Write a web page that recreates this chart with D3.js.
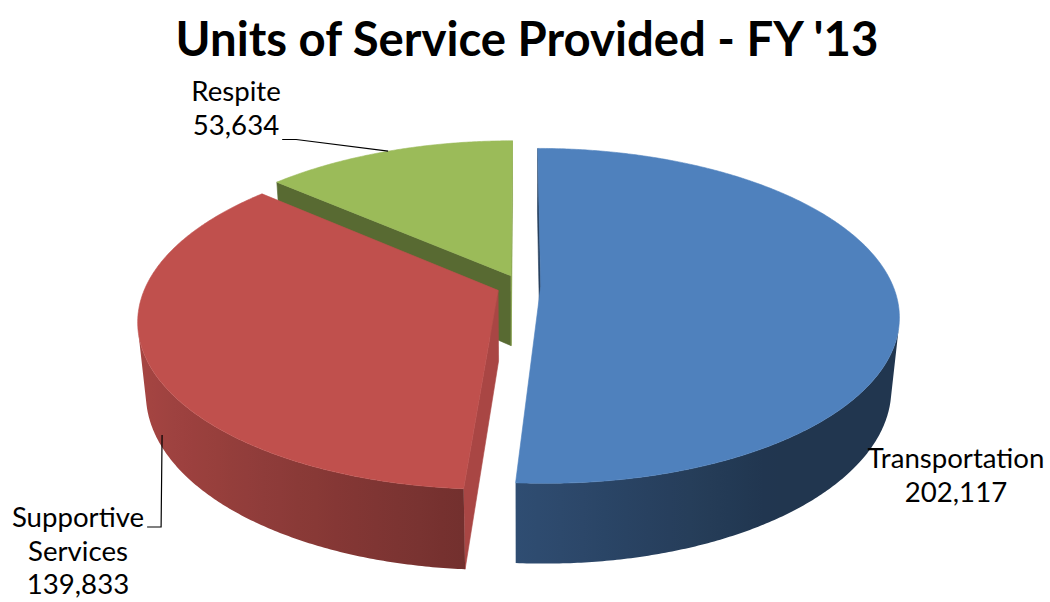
<!DOCTYPE html>
<html>
<head>
<meta charset="utf-8">
<script src="https://cdn.jsdelivr.net/npm/d3@7"></script>
<style>
body { margin: 0; background: #fff; }
svg { display: block; }
</style>
</head>
<body>
<div id="view"></div>
<script>
var width = 1050, height = 602;

// chart data
var title = "Units of Service Provided - FY '13";
var categories = ["Transportation", "Supportive Services", "Respite"];
var values = [202117, 139833, 53634];
var colors = ["#4f81bd", "#c0504d", "#9bbb59"];
var labelLines = [["Transportation"], ["Supportive", "Services"], ["Respite"]];

// 3d camera (pie radius = 1)
var tilt = 27.4 * Math.PI / 180, dist = 5.03, focal = 1772;
var cx = 521, cy = 286;
var depth = 0.23;
var explodeBy = [0.056, 0.07, 0.07];   // per slice pull-out
var camera = [0, dist * Math.sin(tilt), -dist * Math.cos(tilt)];

// where the labels sit
var labelPos = [
	{ x: 956, y: 468 },
	{ x: 78, y: 527, lead: "bottom" },
	{ x: 236, y: 101, lead: "top" }
];
var lineGap = 33.5;

function project(X, Y, Z) {
	var xc = X,
		yc = Y * Math.cos(tilt) + Z * Math.sin(tilt),
		zc = dist + Z * Math.cos(tilt) - Y * Math.sin(tilt);
	return [cx + focal * xc / zc, cy - focal * yc / zc];
}

function shade(hex, k) {
	var c = d3.rgb(hex);
	return d3.rgb(c.r * k, c.g * k, c.b * k).formatHex();
}

var svg = d3.select("#view").append("svg")
	.attr("width", width)
	.attr("height", height);
var defs = svg.append("defs");

var pie = d3.pie().sort(null).value(function(d) { return d; });
var arcs = pie(values);
var fmt = d3.format(",");
var line = d3.line();

var slices = arcs.map(function(a, i) {
	var mid = (a.startAngle + a.endAngle) / 2;
	return { i: i, a: a, mid: mid, ex: explodeBy[i] * Math.sin(mid), ez: explodeBy[i] * Math.cos(mid) };
});

// far slices first
var order = slices.slice().sort(function(p, q) { return q.ez - p.ez; });

var gPie = svg.append("g");
order.forEach(function(s) {
	var gs = gPie.append("g").attr("class", "slice");
	var col = colors[s.i];
	function P(t, y, r) {
		if (r == null) r = 1;
		return project(s.ex + r * Math.sin(t), y, s.ez + r * Math.cos(t));
	}
	function facing(px, pz, nx, nz) {
		return (camera[0] - px) * nx + (camera[2] - pz) * nz > 0;
	}
	function face(pts, fill) {
		return gs.append("path")
			.attr("d", line(pts) + "Z")
			.style("fill", fill)
			.style("stroke", fill)
			.style("stroke-width", 0.6)
			.style("stroke-linejoin", "round");
	}

	// cut faces
	[[s.a.startAngle, -1], [s.a.endAngle, 1]].forEach(function(e) {
		var t = e[0], n = t + e[1] * Math.PI / 2;
		var nx = Math.sin(n), nz = Math.cos(n);
		if (!facing(s.ex + 0.5 * Math.sin(t), s.ez + 0.5 * Math.cos(t), nx, nz)) return;
		face([P(t, 0, 0), P(t, 0), P(t, -depth), P(t, -depth, 0)], shade(col, 0.69 + 0.19 * nx));
	});

	// outer wall: contiguous visible runs, shaded with a gradient
	var a0 = s.a.startAngle, a1 = s.a.endAngle;
	var n = Math.ceil((a1 - a0) / (Math.PI / 360));
	var runs = [], cur = null;
	for (var k = 0; k <= n; k++) {
		var t = a0 + k * (a1 - a0) / n;
		var vis = facing(s.ex + Math.sin(t), s.ez + Math.cos(t), Math.sin(t), Math.cos(t));
		if (vis) {
			if (!cur) { cur = []; runs.push(cur); }
			cur.push(t);
		} else cur = null;
	}
	runs.forEach(function(run, r) {
		if (run.length < 2) return;
		var topPts = run.map(function(t) { return P(t, 0); });
		var botPts = run.map(function(t) { return P(t, -depth); }).reverse();
		var xs = topPts.map(function(p) { return p[0]; });
		var xmin = d3.min(xs), xmax = d3.max(xs);
		var id = "wall" + s.i + "_" + r;
		var gr = defs.append("linearGradient")
			.attr("id", id)
			.attr("gradientUnits", "userSpaceOnUse")
			.attr("x1", xmin).attr("x2", xmax)
			.attr("y1", 0).attr("y2", 0);
		var stops = run.map(function(t, k) {
			return { o: (xs[k] - xmin) / (xmax - xmin || 1), c: shade(col, Math.max(0.42, 0.58 - 0.3 * Math.sin(t))) };
		}).sort(function(p, q) { return p.o - q.o; });
		stops.filter(function(d, k) { return k % 6 === 0 || k === stops.length - 1; })
			.forEach(function(d) {
				gr.append("stop").attr("offset", d.o).attr("stop-color", d.c);
			});
		gs.append("path")
			.attr("d", line(topPts.concat(botPts)) + "Z")
			.style("fill", "url(#" + id + ")")
			.style("stroke", "none");
	});

	// top
	var top = [P(0, 0, 0)];
	for (var j = 0; j <= n; j++) top.push(P(a0 + j * (a1 - a0) / n, 0));
	face(top, col);
	s.P = P;
});

// title
var tt = svg.append("text")
	.attr("x", 527)
	.attr("y", 56)
	.attr("text-anchor", "middle")
	.style("font-family", "Lato, 'Open Sans', sans-serif")
	.style("font-weight", "bold")
	.style("font-size", "40px")
	.style("fill", "#000")
	.text(title);
var tw = tt.node().getComputedTextLength();
tt.style("font-size", (40 * 703 / tw) + "px");

// data labels
var gLab = svg.append("g")
	.style("font-family", "Lato, 'Open Sans', sans-serif")
	.style("font-size", "20px")
	.style("fill", "#000");

var probe = gLab.append("text").text(categories[0]);
var labelSize = 20 * 177 / probe.node().getComputedTextLength();
probe.remove();
gLab.style("font-size", labelSize + "px");

slices.forEach(function(s) {
	var pos = labelPos[s.i];
	var lines = labelLines[s.i].concat([fmt(values[s.i])]);
	var txt = gLab.append("text")
		.attr("text-anchor", "middle");
	lines.forEach(function(l, k) {
		txt.append("tspan")
			.attr("x", pos.x)
			.attr("y", pos.y + k * lineGap)
			.text(l);
	});
	if (pos.lead) {
		var li = pos.lead === "top" ? lines.length - 1 : 0;
		var w = txt.selectAll("tspan").nodes()[li].getComputedTextLength();
		var y0 = pos.y + li * lineGap;
		var end = pos.lead === "top" ? s.P(s.mid, 0) : s.P(s.mid - 0.1, -depth * 0.8);
		var x0 = pos.x + w / 2 + 3;
		var yl = pos.lead === "top" ? y0 + 5 : y0;
		svg.append("path")
			.attr("d", line([[x0, yl], [x0 + 14, yl], end]))
			.style("fill", "none")
			.style("stroke", "#000")
			.style("stroke-width", 1.2);
	}
});
</script>
</body>
</html>
